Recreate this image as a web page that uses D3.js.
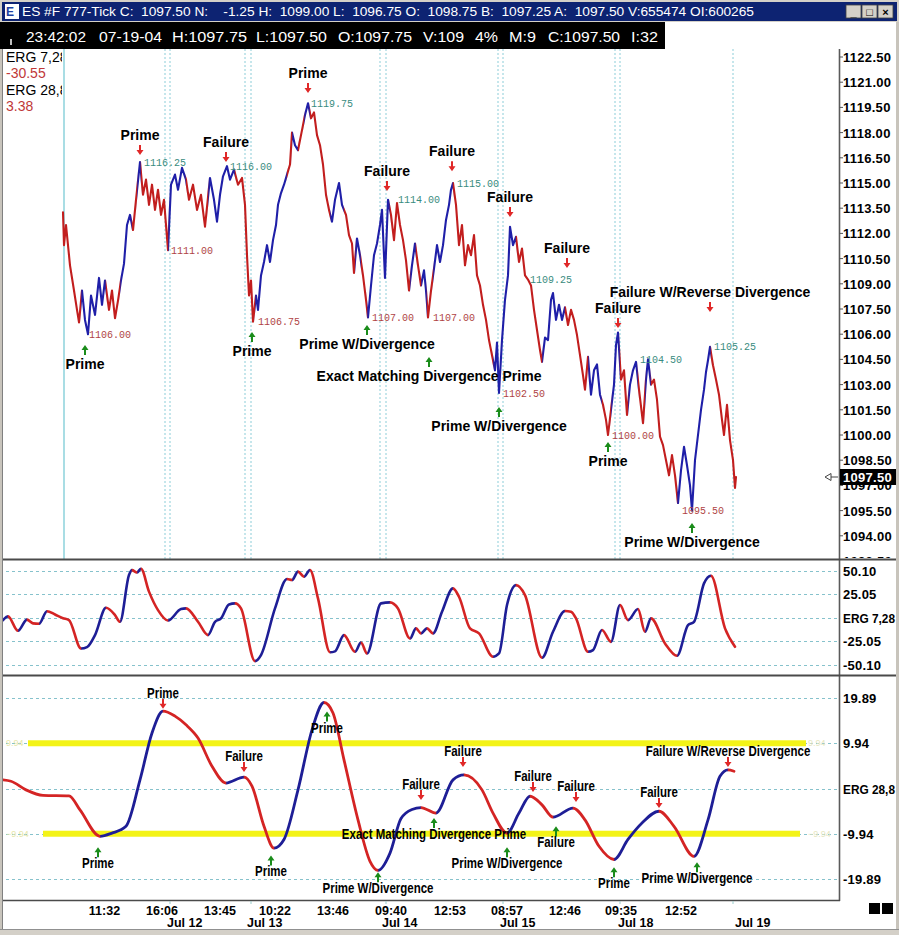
<!DOCTYPE html>
<html><head><meta charset="utf-8">
<script src="https://cdn.jsdelivr.net/npm/d3@7/dist/d3.min.js"></script>
<style>
html,body{margin:0;padding:0;background:#fff;overflow:hidden;}
svg{display:block;font-family:"Liberation Sans",Arial,sans-serif;}
</style></head><body>
<svg id="chart" width="899" height="935"></svg>
<script>
// ---------------- DATA ----------------
// price path (bar number, price) — 777-tick bars
const pricePath = [[60,1113.25],[61,1111.3],[63,1112.5],[67,1110.1],[71,1108.6],[74,1107.45],[76,1106.7],[79,1108.6],[82,1106.85],[85,1106.0],[88,1108.3],[92,1107.15],[96,1109.35],[99,1107.75],[102,1109.2],[106,1107.45],[109,1108.6],[112,1106.95],[115,1108.0],[118,1109.2],[121,1110.2],[124,1112.5],[127,1113.1],[130,1112.2],[133,1114.0],[137,1116.25],[140,1114.3],[143,1115.2],[146,1113.7],[149,1114.9],[152,1113.4],[155,1114.6],[158,1113.1],[161,1114.0],[165,1111.0],[168,1114.9],[172,1115.5],[175,1114.6],[179,1115.9],[183,1115.2],[186,1114.0],[190,1114.9],[194,1113.4],[198,1114.3],[202,1112.4],[207,1115.3],[211,1114.0],[214,1112.7],[217,1114.3],[220,1115.4],[224,1116.0],[227,1115.2],[231,1115.8],[235,1114.9],[239,1115.3],[242,1113.7],[244,1110.7],[246,1108.3],[248,1109.2],[250,1106.75],[253,1108.3],[255,1107.45],[258,1109.5],[261,1110.3],[264,1111.3],[267,1110.3],[270,1111.6],[273,1112.5],[275,1113.7],[278,1114.4],[281,1114.9],[284,1115.5],[287,1116.1],[289,1118.0],[292,1117.25],[295,1116.95],[299,1118.15],[302,1119.05],[305,1119.75],[308,1118.85],[311,1119.2],[314,1117.85],[317,1117.25],[320,1116.1],[323,1114.3],[326,1113.4],[329,1112.7],[332,1114.0],[336,1115.0],[339,1113.7],[343,1113.1],[346,1111.9],[349,1111.4],[351,1109.65],[354,1111.7],[357,1110.7],[360,1109.5],[363,1108.05],[365,1107.0],[368,1108.9],[371,1110.7],[374,1111.4],[377,1112.5],[379,1113.4],[382,1109.35],[385,1114.0],[388,1113.1],[391,1111.6],[394,1113.8],[397,1112.5],[400,1111.6],[403,1110.4],[406,1108.6],[409,1110.1],[412,1111.4],[415,1110.1],[418,1108.9],[421,1109.8],[423,1108.6],[425,1107.0],[428,1108.6],[431,1109.9],[434,1111.3],[437,1110.3],[440,1111.3],[443,1112.8],[446,1113.7],[448,1114.6],[450,1115.0],[453,1113.7],[456,1111.3],[459,1112.5],[462,1110.1],[465,1111.3],[468,1110.7],[471,1111.9],[474,1109.5],[477,1108.9],[480,1107.75],[483,1106.85],[486,1105.65],[489,1104.75],[492,1103.85],[494,1105.5],[496,1102.5],[499,1105.65],[502,1108.05],[505,1109.5],[507,1112.4],[510,1111.3],[513,1111.8],[516,1110.3],[519,1111.1],[522,1109.5],[525,1109.25],[528,1108.9],[531,1107.45],[534,1106.25],[537,1105.05],[539,1104.35],[542,1105.8],[545,1105.65],[548,1108.05],[550,1108.45],[553,1106.85],[556,1107.75],[559,1106.85],[562,1107.6],[565,1106.55],[568,1107.45],[571,1106.85],[574,1105.95],[577,1104.75],[580,1103.55],[582,1102.7],[585,1104.65],[588,1102.4],[591,1103.85],[594,1104.2],[597,1102.4],[600,1101.8],[603,1100.9],[605,1100.0],[608,1101.5],[611,1103.0],[613,1105.35],[615,1106.1],[618,1103.3],[621,1103.85],[624,1101.2],[627,1103.0],[630,1103.85],[633,1104.35],[636,1102.7],[640,1100.7],[643,1103.3],[645,1104.5],[648,1103.0],[651,1103.3],[654,1102.1],[657,1099.9],[660,1099.4],[663,1098.5],[666,1097.6],[669,1098.8],[672,1097.6],[675,1095.95],[678,1097.9],[681,1099.3],[684,1098.2],[687,1097.0],[689,1095.5],[692,1098.5],[695,1100.0],[698,1101.5],[701,1102.7],[703,1103.75],[705,1104.45],[707,1105.25],[710,1104.15],[713,1103.3],[716,1102.4],[719,1100.9],[721,1100.0],[724,1101.8],[727,1099.7],[730,1098.5],[732,1096.85],[733,1097.5]];

// ERG 7,28 (bar, value)
const erg7 = [[0,-2.5],[5,1.5],[15,-14],[24,-2],[30,-6],[36,-6.5],[44,7],[52,3.5],[60,-0.5],[66,-2.5],[78,-33],[84,-31.5],[92,-18.6],[103,10.7],[112,2.9],[117,-4.3],[126,45.8],[129,51],[134,48.5],[138,52.5],[146,28],[155,8.2],[165,-3],[178,9.3],[183,10],[195,-4.3],[205,-18.6],[212,-4.3],[218,-0.7],[226,14.3],[232,15.4],[238,10],[252,-46.5],[258,-40],[272,10],[284,41.5],[289,40.4],[295,49.4],[301,44],[307,51.1],[315,20.7],[327,-37],[332,-36],[341,-18.6],[352,-36.5],[358,-26.5],[364,-38.3],[378,15.4],[387,16.5],[395,10],[407,-22.2],[413,-11.4],[418,-16.8],[424,-11.4],[430,-16.8],[439,6.4],[450,31.5],[456,22.5],[467,-11.4],[476,-16.8],[490,-41.8],[496,-38.3],[504,13.6],[513,35],[522,24.3],[539,-42.9],[550,-15],[562,7.2],[568,6.4],[573,-0.7],[585,-36.5],[590,-34.7],[599,-13.2],[608,-25.8],[617,13.6],[625,-2.5],[635,9.3],[642,-15],[648,-0.7],[662,-27.5],[674,-40.8],[685,-7.9],[691,-4.3],[701,36.8],[708,45],[722,-11.4],[732,-31.1]];

// ERG 28,8 (bar, value)
const erg28 = [[0,1.9],[8,1.6],[23,-0.3],[40,-1.5],[66,-1.6],[77,-4.7],[97,-10.5],[109,-9.8],[123,-8.3],[137,1.9],[149,12.2],[160,17],[172,15.9],[183,14],[195,11.1],[209,4.9],[223,1.2],[241,2.5],[249,0.5],[261,-8.3],[271,-13.1],[281,-11.2],[295,-0.3],[309,12.9],[321,18.9],[330,16.6],[341,6.3],[355,-6.9],[367,-16],[375,-18],[387,-14.2],[398,-6.6],[409,-4.6],[418,-4.2],[433,-5.4],[450,1.9],[461,3.0],[479,-0.3],[490,-5.4],[504,-9.8],[516,-5.4],[527,-1.7],[539,-3.6],[550,-6.3],[570,-4.3],[582,-6.9],[596,-12.7],[611,-15.6],[625,-11.2],[639,-7.6],[656,-5],[671,-8.3],[691,-14.9],[705,-6.9],[717,2.7],[725,4.1],[731,3.8]];

// indicator readouts (top-left)
const readouts = [["ERG 7,28", "-30.55"], ["ERG 28,8", "3.38"]];

// pivot price labels (bar, price)
const highLabels = [[141,1116.25],[227,1116.0],[308,1119.75],[395,1114.0],[454,1115.0],[527,1109.25],[637,1104.5],[711,1105.25]];
const lowLabels = [[86,1106.0],[168,1111.0],[255,1106.75],[369,1107.0],[430,1107.0],[500,1102.5],[609,1100.0],[679,1095.5]];

// signal annotations: [bar, level, text]
const priceTops = [[137,1116.96,"Prime"],[223,1116.55,"Failure"],[305,1120.65,"Prime"],[384,1114.82,"Failure"],[449,1116.0,"Failure"],[507,1113.27,"Failure"],[564,1110.24,"Failure"],[615,1106.67,"Failure"],[707,1107.62,"Failure W/Reverse Divergence"]];
const priceBottoms = [[82,1105.06,"Prime"],[249,1105.83,"Prime"],[364,1106.25,"Prime W/Divergence"],[426,1104.35,"Exact Matching Divergence Prime"],[496,1101.37,"Prime W/Divergence"],[605,1099.29,"Prime"],[689,1094.46,"Prime W/Divergence"]];
const ergTops = [[160,18.65,"Prime"],[241,4.75,"Failure"],[418,-1.43,"Failure"],[460,5.85,"Failure"],[530,0.33,"Failure"],[573,-1.88,"Failure"],[656,-3.2,"Failure"],[725,5.85,"Failure W/Reverse Divergence"]];
const ergBottoms = [[95,-14.0,"Prime"],[268,-15.8,"Prime"],[324,15.8,"Prime"],[375,-19.5,"Prime W/Divergence"],[431,-7.6,"Exact Matching Divergence Prime"],[553,-9.4,"Failure"],[504,-14.0,"Prime W/Divergence"],[611,-18.4,"Prime"],[694,-17.3,"Prime W/Divergence"]];

// axes
const priceTicks = [1092.5,1094,1095.5,1097,1098.5,1100,1101.5,1103,1104.5,1106,1107.5,1109,1110.5,1112,1113.5,1115,1116.5,1118,1119.5,1121,1122.5];
const erg7Ticks = [50.10,25.05,0,-25.05,-50.10];
const erg7TickLabels = ["50.10","25.05","ERG 7,28","-25.05","-50.10"];
const erg28Ticks = [19.89,9.94,0,-9.94,-19.89];
const erg28TickLabels = ["19.89","9.94","ERG 28,8","-9.94","-19.89"];
const ergBands = [9.94,-9.94];
const timeLabels = ["11:32","16:06","13:45","10:22","13:46","09:40","12:53","08:57","12:46","09:35","12:52"];
const timeBars = [101.5,159,217,272,330,388,447,504,562,618,678];
const dateLabels = ["Jul 12","Jul 13","Jul 14","Jul 15","Jul 18","Jul 19"];
const dateBars = [164,244,379,497,615,732];
const sessionLines = [162,167,242,248,377,383,495,500,612,617,730];
const firstBar = 61;
const lastPrice = 1097.50;

// ---------------- DRAW ----------------
const svg = d3.select('#chart');
const defs = svg.append('defs');
const PL = 3, PR = 839;
const panels = {
  main: {top: 49, bottom: 559},
  mid: {top: 561, bottom: 675},
  low: {top: 677, bottom: 900}
};
const x = d3.scaleLinear().domain([0, 732]).range([3, 735]);
const yP = d3.scaleLinear().domain([1092.5, 1122.5]).range([561, 57]);
const y7 = d3.scaleLinear().domain([-50.1, 50.1]).range([664.5, 571]);
const y28 = d3.scaleLinear().domain([-19.89, 19.89]).range([879, 698]);

const BLUE = '#1e1e96', RED = '#d42424';
const PBLUE = '#1f1fa8', PRED = '#c21e1e';

svg.append('rect').attr('width', 899).attr('height', 935).attr('fill', '#fff');

Object.entries(panels).forEach(([k, p]) => {
  defs.append('clipPath').attr('id', 'clip-' + k).append('rect')
    .attr('x', PL).attr('y', p.top).attr('width', PR - PL).attr('height', p.bottom - p.top);
});

function dirRuns(pts) {
  const runs = [];
  for (let i = 0; i < pts.length - 1; i++) {
    const d = pts[i + 1][1] >= pts[i][1] ? 1 : -1;
    const last = runs[runs.length - 1];
    if (last && last.d === d) last.b1 = pts[i + 1][0];
    else runs.push({d, b0: pts[i][0], b1: pts[i + 1][0]});
  }
  runs[0].b0 = -20; runs[runs.length - 1].b1 = 800;
  return runs;
}
function makeDirClips(id, pts) {
  const runs = dirRuns(pts);
  [1, -1].forEach(d => {
    const cp = defs.append('clipPath').attr('id', id + (d > 0 ? '-up' : '-dn'));
    runs.filter(r => r.d === d).forEach(r => {
      cp.append('rect').attr('x', x(r.b0) - 0.25).attr('y', 0)
        .attr('width', x(r.b1) - x(r.b0) + 0.5).attr('height', 935);
    });
  });
}
makeDirClips('d7', erg7);
makeDirClips('d28', erg28);

// main panel session lines
const gMainBg = svg.append('g').attr('clip-path', 'url(#clip-main)');
gMainBg.append('line').attr('x1', x(firstBar)).attr('x2', x(firstBar))
  .attr('y1', panels.main.top).attr('y2', panels.main.bottom)
  .attr('stroke', '#a9dde4').attr('stroke-width', 2);
gMainBg.selectAll('line.sess').data(sessionLines).join('line').attr('class', 'sess')
  .attr('x1', d => x(d)).attr('x2', d => x(d))
  .attr('y1', panels.main.top).attr('y2', panels.main.bottom)
  .attr('stroke', '#8ccdd8').attr('stroke-width', 1).attr('stroke-dasharray', '2,2');

// ERG grids
function hGrid(vals, scale) {
  svg.append('g').selectAll('line').data(vals).join('line')
    .attr('x1', 6).attr('x2', PR).attr('y1', d => Math.round(scale(d)) + 0.5).attr('y2', d => Math.round(scale(d)) + 0.5)
    .attr('stroke', '#86c2cc').attr('stroke-width', 1).attr('stroke-dasharray', '3,3');
}
hGrid(erg7Ticks, y7);
hGrid(erg28Ticks, y28);

// yellow bands
svg.append('g').selectAll('rect').data(ergBands).join('rect')
  .attr('x', (d, i) => i === 0 ? 28 : 43).attr('width', (d, i) => i === 0 ? 778 : 757)
  .attr('y', d => y28(d) - 3).attr('height', 6).attr('fill', '#f3f318');
svg.append('g').selectAll('text').data(ergBands).join('text')
  .attr('x', 6).attr('y', d => y28(d) + 3).attr('font-size', 9).attr('fill', '#e6e6a8')
  .text(d => d3.format('.2f')(d));
svg.append('g').selectAll('text').data(ergBands).join('text')
  .attr('x', 808).attr('y', d => y28(d) + 3).attr('font-size', 9).attr('fill', '#e6e6c0')
  .text(d => d3.format('.2f')(d));

// colored lines
function coloredPath(parentClip, dirId, d, lineGen, cUp, cDn, w) {
  const g = svg.append('g').attr('clip-path', 'url(#' + parentClip + ')');
  [[1, cUp], [-1, cDn]].forEach(([dd, c]) => {
    g.append('g').attr('clip-path', 'url(#' + dirId + (dd > 0 ? '-up' : '-dn') + ')')
      .append('path').attr('d', lineGen(d)).attr('fill', 'none')
      .attr('stroke', c).attr('stroke-width', w).attr('stroke-linejoin', 'round').attr('stroke-linecap', 'round');
  });
}
const priceLine = d3.line().x(d => x(d[0])).y(d => yP(d[1]));
coloredPath('clip-main', 'd7', pricePath, priceLine, PBLUE, PRED, 2.1);
const l7 = d3.line().x(d => x(d[0])).y(d => y7(d[1])).curve(d3.curveMonotoneX);
coloredPath('clip-mid', 'd7', erg7, l7, BLUE, RED, 2.6);
const l28 = d3.line().x(d => x(d[0])).y(d => y28(d[1])).curve(d3.curveMonotoneX);
coloredPath('clip-low', 'd28', erg28, l28, BLUE, RED, 2.8);

// pivot labels
const fmt2 = d3.format('.2f');
svg.append('g').selectAll('text').data(highLabels).join('text')
  .attr('x', d => x(d[0])).attr('y', d => yP(d[1]) + 3.5)
  .attr('font-family', '"Liberation Mono","DejaVu Sans Mono",monospace').attr('font-size', 10)
  .attr('fill', '#3a8c80').text(d => fmt2(d[1]));
svg.append('g').selectAll('text').data(lowLabels).join('text')
  .attr('x', d => x(d[0])).attr('y', d => yP(d[1]) + 3.5)
  .attr('font-family', '"Liberation Mono","DejaVu Sans Mono",monospace').attr('font-size', 10)
  .attr('fill', '#b04444').text(d => fmt2(d[1]));

// arrows + annotation text
function arrowPath(cx, cy, down) {
  const s = down ? 1 : -1;
  return `M${cx - 1},${cy - 5 * s} L${cx + 1},${cy - 5 * s} L${cx + 1},${cy} L${cx + 3.5},${cy} L${cx},${cy + 5 * s} L${cx - 3.5},${cy} L${cx - 1},${cy} Z`;
}
function annotate(data, yScale, down, txtOff, narrow) {
  const g = svg.append('g');
  g.selectAll('path').data(data).join('path')
    .attr('d', d => arrowPath(x(d[0]), yScale(d[1]), down))
    .attr('fill', down ? '#e02828' : '#1a8c1a');
  g.selectAll('text').data(data).join('text')
    .attr('transform', d => `translate(${x(d[0])},${yScale(d[1]) + txtOff}) scale(${narrow ? 0.82 : 1},1)`)
    .attr('text-anchor', 'middle').attr('font-size', 14).attr('font-weight', 'bold')
    .attr('fill', '#000').text(d => d[2]);
}
annotate(priceTops, yP, true, -10, false);
annotate(priceBottoms, yP, false, 19, false);
annotate(ergTops, y28, true, -6, true);
annotate(ergBottoms, y28, false, 16, true);

// top-left readouts
defs.append('clipPath').attr('id', 'clip-readout').append('rect').attr('x', 0).attr('y', 49).attr('width', 62).attr('height', 70);
const ro = svg.append('g').attr('clip-path', 'url(#clip-readout)').attr('font-size', 14);
readouts.forEach((r, i) => {
  ro.append('text').attr('x', 6).attr('y', 62 + i * 33).attr('fill', '#000').text(r[0]);
  ro.append('text').attr('x', 6).attr('y', 78 + i * 33).attr('fill', '#c03838').text(r[1]);
});

// frame / separators
svg.append('line').attr('x1', PR + 0.5).attr('x2', PR + 0.5).attr('y1', 49).attr('y2', 901)
  .attr('stroke', '#5a5a5a').attr('stroke-width', 1.6);
[559.5, 675.5].forEach(yy => {
  svg.append('line').attr('x1', 3).attr('x2', 897).attr('y1', yy).attr('y2', yy).attr('stroke', '#4a4a4a').attr('stroke-width', 1.8);
});
svg.append('line').attr('x1', 3).attr('x2', PR + 1).attr('y1', 900.5).attr('y2', 900.5).attr('stroke', '#4a4a4a').attr('stroke-width', 1.4);

// right axes
defs.append('clipPath').attr('id', 'clip-raxis').append('rect').attr('x', 839).attr('y', 49).attr('width', 60).attr('height', 509);
const ax = svg.append('g').attr('clip-path', 'url(#clip-raxis)');
ax.selectAll('line').data(priceTicks).join('line')
  .attr('x1', PR).attr('x2', PR + 4).attr('y1', d => yP(d)).attr('y2', d => yP(d)).attr('stroke', '#555');
ax.selectAll('text').data(priceTicks).join('text')
  .attr('x', 843).attr('y', d => yP(d) + 5).attr('font-size', 13).attr('font-weight', 'bold')
  .attr('letter-spacing', 0.3).attr('fill', '#000').text(d => fmt2(d));
svg.append('rect').attr('x', 840).attr('y', yP(lastPrice) - 8).attr('width', 56).attr('height', 16).attr('fill', '#000');
svg.append('text').attr('x', 843).attr('y', yP(lastPrice) + 5).attr('font-size', 13).attr('font-weight', 'bold')
  .attr('letter-spacing', 0.3).attr('fill', '#fff').text(fmt2(lastPrice));
const ly = yP(lastPrice);
svg.append('path').attr('d', `M825,${ly} L831,${ly - 3.5} L831,${ly + 3.5} Z M831,${ly} L838,${ly}`)
  .attr('fill', '#fff').attr('stroke', '#444').attr('stroke-width', 1);

function ergAxis(vals, labels, scale) {
  const g = svg.append('g');
  g.selectAll('text').data(vals).join('text')
    .attr('x', 843).attr('y', d => scale(d) + 5).attr('font-size', 13).attr('font-weight', 'bold')
    .attr('fill', '#000')
    .each(function(d, i) {
      if (d === 0) d3.select(this).attr('textLength', 52).attr('lengthAdjust', 'spacingAndGlyphs');
      else d3.select(this).attr('letter-spacing', 0.2);
    })
    .text((d, i) => labels[i]);
}
ergAxis(erg7Ticks, erg7TickLabels, y7);
ergAxis(erg28Ticks, erg28TickLabels, y28);

// x axis labels
svg.append('g').selectAll('text').data(timeLabels).join('text')
  .attr('x', (d, i) => x(timeBars[i])).attr('y', 915).attr('text-anchor', 'middle')
  .attr('font-size', 12.5).attr('font-weight', 'bold').attr('fill', '#000').text(d => d);
svg.append('g').selectAll('text').data(dateLabels).join('text')
  .attr('x', (d, i) => x(dateBars[i])).attr('y', 927)
  .attr('font-size', 12.5).attr('font-weight', 'bold').attr('fill', '#000').text(d => d);
svg.append('g').selectAll('line').data(sessionLines.filter((d, i) => i % 2 === 1 || i === sessionLines.length - 1)).join('line')
  .attr('x1', d => x(d)).attr('x2', d => x(d)).attr('y1', 901).attr('y2', 904).attr('stroke', '#9cc');
svg.append('rect').attr('x', 869).attr('y', 903).attr('width', 11).attr('height', 11).attr('fill', '#000');
svg.append('rect').attr('x', 882).attr('y', 903).attr('width', 11).attr('height', 11).attr('fill', '#000');

// window chrome
svg.append('rect').attr('x', 0).attr('y', 22).attr('width', 3).attr('height', 913).attr('fill', '#c8c4bc');
svg.append('line').attr('x1', 2.5).attr('x2', 2.5).attr('y1', 49).attr('y2', 930).attr('stroke', '#808080');
svg.append('rect').attr('x', 896).attr('y', 22).attr('width', 3).attr('height', 913).attr('fill', '#c8c4bc');
svg.append('rect').attr('x', 0).attr('y', 929).attr('width', 899).attr('height', 6).attr('fill', '#d4d0c8');
svg.append('line').attr('x1', 0).attr('x2', 899).attr('y1', 929.5).attr('y2', 929.5).attr('stroke', '#909090');

// title bar
svg.append('rect').attr('x', 0).attr('y', 0).attr('width', 899).attr('height', 22).attr('fill', '#d4d0c8');
svg.append('rect').attr('x', 2).attr('y', 2).attr('width', 895).attr('height', 19).attr('fill', '#0d2372');
svg.append('rect').attr('x', 5).attr('y', 4).attr('width', 14).attr('height', 15).attr('fill', '#fff');
svg.append('text').attr('x', 6).attr('y', 16).attr('font-size', 12).attr('font-weight', 'bold').attr('fill', '#2040a0').text('E');
svg.append('text').attr('x', 22).attr('y', 16).attr('font-size', 12).attr('fill', '#fff')
  .attr('textLength', 732).attr('lengthAdjust', 'spacingAndGlyphs').style('white-space', 'pre')
  .text('ES #F 777-Tick C:  1097.50 N:    -1.25 H:  1099.00 L:  1096.75 O:  1098.75 B:  1097.25 A:  1097.50 V:655474 OI:600265');
[[846, '_'], [862, '□'], [878, '×']].forEach(([bx, s]) => {
  svg.append('rect').attr('x', bx).attr('y', 5).attr('width', 15).attr('height', 13).attr('fill', '#d4d0c8')
    .attr('stroke', '#404040').attr('stroke-width', 0.8);
  svg.append('text').attr('x', bx + 7.5).attr('y', 15.5).attr('text-anchor', 'middle').attr('font-size', 11)
    .attr('font-weight', 'bold').attr('fill', '#000').text(s);
});

// info bar
svg.append('rect').attr('x', 0).attr('y', 22).attr('width', 665).attr('height', 27).attr('fill', '#000');
svg.append('line').attr('x1', 11).attr('x2', 11).attr('y1', 39).attr('y2', 45).attr('stroke', '#fff').attr('stroke-width', 1.5);
const infoTokens = [["23:42:02", 26, 86], ["07-19-04", 99, 162], ["H:1097.75", 172, 247], ["L:1097.50", 256, 327],
  ["O:1097.75", 338, 412], ["V:109", 423, 464], ["4%", 475, 498], ["M:9", 509, 536], ["C:1097.50", 548, 620], ["I:32", 631, 658]];
svg.append('g').selectAll('text').data(infoTokens).join('text')
  .attr('x', d => d[1]).attr('y', 42).attr('font-size', 14).attr('fill', '#fff')
  .attr('textLength', d => d[2] - d[1]).attr('lengthAdjust', 'spacingAndGlyphs').text(d => d[0]);
</script>
</body></html>
